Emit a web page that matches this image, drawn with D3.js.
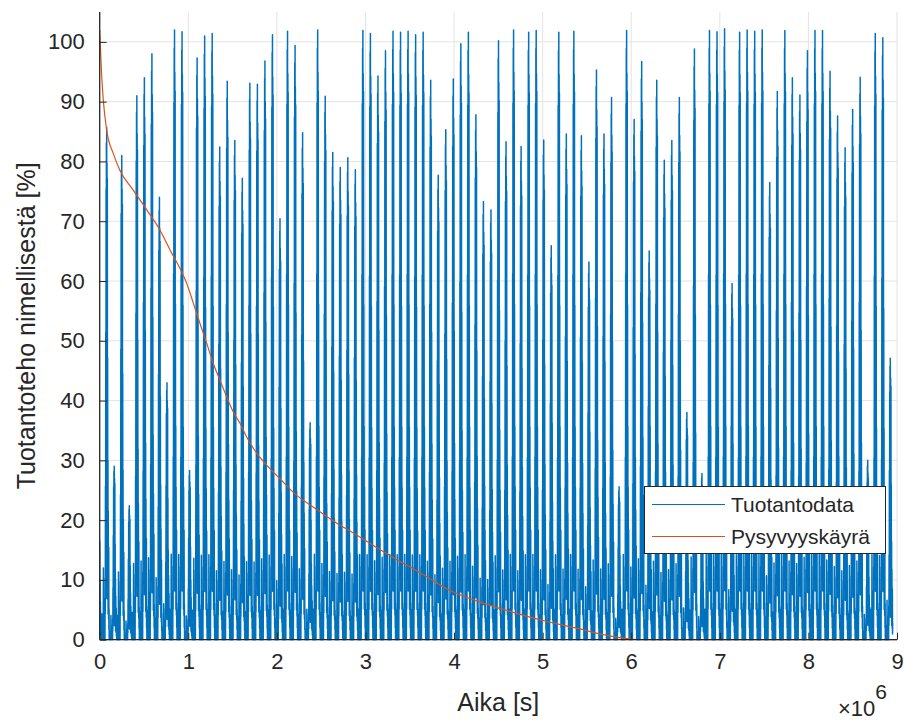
<!DOCTYPE html>
<html><head><meta charset="utf-8">
<script src="https://cdn.jsdelivr.net/npm/d3@7"></script>
<style>
body{margin:0;background:#fff}
text{font-family:"Liberation Sans",Arial,Helvetica,sans-serif;fill:#262626}
</style>
</head><body>
<svg id="chart" width="904" height="720"></svg>
<script>
// ---------- data ----------
const xTickValues = [0,1e6,2e6,3e6,4e6,5e6,6e6,7e6,8e6,9e6];
const xTickLabels = ["0","1","2","3","4","5","6","7","8","9"];
const yTickValues = [0,10,20,30,40,50,60,70,80,90,100];
const yTickLabels = ["0","10","20","30","40","50","60","70","80","90","100"];

// daily peak production [%] (first entry = partial cycle before t = 0)
const dailyPeaks = [18,
 85.7,29,81,22.4,91,94,98,74,43,102,101.7,28.3,97.3,101,101.4,82.4,93.4,83.5,77.2,93.1,92.9,
 96.8,101.2,70.4,101.8,99.4,84.8,36.3,102,90.9,81.5,79,80.6,78.6,101.9,101.4,94.3,98.5,101.8,101.6,101.8,101.2,
 101.6,93.6,77.7,85.3,93.8,99.7,101.6,87.8,73.3,71.9,100.2,83.3,102,82.5,101.6,101.9,83.6,65.9,101.6,84.6,101.8,
 84.3,63.2,95.3,84.6,90.7,25.6,101.9,87,96.7,65,93.6,80.2,83.5,90.7,38,98.8,27.8,101.9,101.7,102.2,59.6,
 101.6,102,101.8,102,76.5,91.7,101.9,94,91.1,98.5,101.9,101.9,95.1,87.6,82.3,88.7,94.1,30,101.4,100.7,47.1];
const firstPeakTime = 79000;   // s
const dayPeriod = 85055;       // s
// relative shape of one production cycle (48 samples, peak at index 32)
const dayShape = [
 0,0.03,0,0.05,0.01,0,0.04,0,0.02,0.04,0,0.14,0.01,0,0.05,0,0.03,0.02,0,0.08,0.01,0,
 0.12,0.05,0.3,0.1,0.6,0.2,
 0.88,0.15,0.97,0.3,1.0,0.08,0.93,0.4,0.9,0.2,
 0.55,0.1,0.35,0.05,0.25,0.1,
 0.04,0.18,0.02,0.06];
const peakIndex = 32;

// duration curve (Pysyvyyskäyrä)
const durationTime = [0,0.02,0.041,0.079,0.154,0.229,0.379,0.531,0.681,0.794,0.906,0.982,1.057,1.132,1.208,1.282,1.358,1.434,1.508,1.584,1.659,1.772,1.903,2.03,2.204,2.43,2.656,2.881,3.107,3.333,3.615,3.932,4.312,4.688,5.06,5.421,5.70,6.0,6.1,9.0].map(d=>d*1e6);
const durationValue = [102,95,90.2,85.2,81.3,78.5,75.2,71.9,68.5,65.2,62.1,59.6,56.3,52.9,49.6,46.2,43.4,40.6,38.1,36.2,33.9,31.2,28.9,27,24.4,22.0,19.7,17.7,15.6,13.6,11.2,8.4,6.2,4.5,3.0,1.8,0.8,0.1,0,0];

const legendLabels = ["Tuotantodata","Pysyvyyskäyrä"];
const colors = ["#0072BD","#D95319"];

// ---------- build series ----------
const dt = dayPeriod / dayShape.length;
const prodData = [];
dailyPeaks.forEach((p,k)=>{
  const center = firstPeakTime + (k-1)*dayPeriod;
  dayShape.forEach((s,i)=>{
    prodData.push([center + (i-peakIndex)*dt, p*s]);
  });
});
const durData = durationTime.map((t,i)=>[t,durationValue[i]]);

// ---------- layout ----------
const svg = d3.select("#chart");
const L = 99.7, R = 897, T = 12, B = 639.7;
const x = d3.scaleLinear().domain([0,9e6]).range([L,R]);
const y = d3.scaleLinear().domain([0,105]).range([B,T]);

svg.append("defs").append("clipPath").attr("id","clip")
  .append("rect").attr("x",L).attr("y",T).attr("width",R-L).attr("height",B-T+1);

// grid
const grid = svg.append("g").attr("stroke","#e3e3e3").attr("stroke-width",1);
xTickValues.forEach(v=>grid.append("line").attr("x1",x(v)).attr("x2",x(v)).attr("y1",T).attr("y2",B));
yTickValues.forEach(v=>grid.append("line").attr("x1",L).attr("x2",R).attr("y1",y(v)).attr("y2",y(v)));

// series
const plot = svg.append("g").attr("clip-path","url(#clip)");
plot.append("path").datum(prodData)
  .attr("fill","none").attr("stroke",colors[0]).attr("stroke-width",1.5).attr("stroke-linejoin","round")
  .attr("d",d3.line().x(d=>x(d[0])).y(d=>y(d[1])));
plot.append("path").datum(durData)
  .attr("fill","none").attr("stroke",colors[1]).attr("stroke-width",1.2)
  .attr("d",d3.line().curve(d3.curveMonotoneX).x(d=>x(d[0])).y(d=>y(d[1])));

// axes
const xAxis = d3.axisBottom(x).tickValues(xTickValues).tickFormat((d,i)=>xTickLabels[i]).tickSizeInner(-7).tickSizeOuter(0).tickPadding(14);
const yAxis = d3.axisLeft(y).tickValues(yTickValues).tickFormat((d,i)=>yTickLabels[i]).tickSizeInner(-7).tickSizeOuter(0).tickPadding(15);
const gx = svg.append("g").attr("transform",`translate(0,${B})`).call(xAxis);
const gy = svg.append("g").attr("transform",`translate(${L},0)`).call(yAxis);
[gx,gy].forEach(g=>{
  g.select(".domain").attr("stroke","#262626").attr("stroke-width",1.3);
  g.selectAll(".tick line").attr("stroke","#262626");
  g.selectAll(".tick text").attr("font-size",22).attr("fill","#262626")
   .style("font-family",'"Liberation Sans",Arial,sans-serif');
});
gy.select(".domain").attr("d",`M0,${B}V${T}`);
gx.select(".domain").attr("d",`M${L},0H${R}`);

// exponent
const ex = svg.append("text").attr("x",838).attr("y",716).attr("font-size",22);
ex.append("tspan").text("×10");
ex.append("tspan").attr("dy",-17).attr("font-size",21).text("6");

// axis titles
svg.append("text").attr("x",(L+R)/2).attr("y",711).attr("text-anchor","middle").attr("font-size",25).text("Aika [s]");
svg.append("text").attr("transform",`translate(35,${(T+B)/2}) rotate(-90)`).attr("text-anchor","middle").attr("font-size",25).text("Tuotantoteho nimellisestä [%]");

// legend
const lg = svg.append("g");
lg.append("rect").attr("x",644.5).attr("y",486.5).attr("width",241).attr("height",67).attr("fill","#fff").attr("stroke","#262626").attr("stroke-width",1);
[504.5,536.5].forEach((yy,i)=>{
  lg.append("line").attr("x1",652).attr("x2",725).attr("y1",yy).attr("y2",yy).attr("stroke",colors[i]).attr("stroke-width",1.2);
  lg.append("text").attr("x",731).attr("y",yy).attr("dy","0.35em").attr("font-size",21).text(legendLabels[i]);
});
</script>
</body></html>
